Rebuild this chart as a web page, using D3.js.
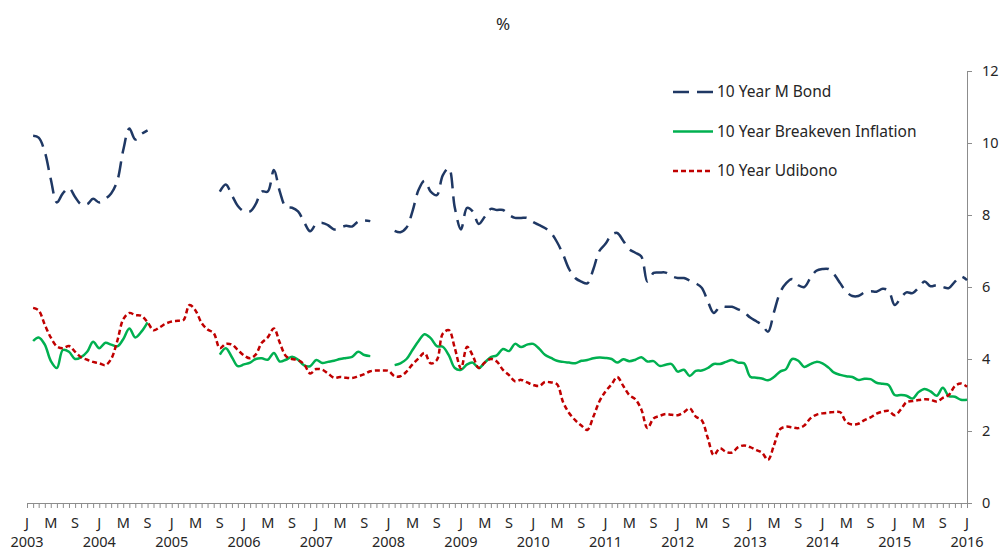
<html>
<head>
<style>
  body { margin: 0; background: #fff; }
  text { font-family: "Noto Sans", sans-serif; fill: #262626; }
</style>
</head>
<body>
<svg id="chart" width="1003" height="552"></svg>
<script src="https://cdn.jsdelivr.net/npm/d3@7"></script>
<script>
// monthly values, Feb 2003 .. Jan 2016 (null = no data)
const firstMonth = new Date(2003, 1, 1)
const mBond = [
  10.2, 10.15, 9.75, 9.0, 8.35, 8.6, 8.75, 8.5, 8.3, 8.3, 8.45, 8.35,
  8.45, 8.6, 8.95, 9.8, 10.4, 10.1, 10.25, 10.35, null, null, null, null,
  null, null, null, null, null, null, null, 8.65, 8.85, 8.55, 8.25, 8.1,
  8.1, 8.3, 8.65, 8.65, 9.25, 8.65, 8.22, 8.2, 8.1, 7.8, 7.55, 7.75,
  7.78, 7.72, 7.6, 7.65, 7.7, 7.68, 7.82, 7.85, 7.83, null, null, null,
  7.56, 7.52, 7.65, 8.1, 8.7, 8.95, 8.65, 8.55, 9.1, 9.3, 8.2, 7.6,
  8.2, 8.1, 7.75, 7.95, 8.17, 8.14, 8.14, 8.0, 7.92, 7.92, 7.92, 7.8,
  7.72, 7.64, 7.5, 7.25, 6.9, 6.5, 6.25, 6.15, 6.1, 6.5, 7.0, 7.2,
  7.45, 7.5, 7.28, 7.05, 6.95, 6.85, 6.15, 6.39, 6.4, 6.4, 6.3, 6.25,
  6.25, 6.18, 6.1, 5.98, 5.6, 5.28, 5.45, 5.45, 5.45, 5.38, 5.3, 5.15,
  5.05, 4.95, 4.76, 5.3, 5.85, 6.1, 6.22, 6.05, 6.0, 6.25, 6.45, 6.5,
  6.5, 6.35, 6.1, 5.87, 5.75, 5.75, 5.85, 5.88, 5.87, 5.95, 5.9, 5.5,
  5.7, 5.85, 5.83, 5.98, 6.15, 6.02, 6.05, 6.0, 5.97, 6.15, 6.29, 6.19
]
const breakeven = [
  4.5, 4.6, 4.4, 3.95, 3.75, 4.25, 4.2, 4.0, 4.05, 4.2, 4.48, 4.3,
  4.45, 4.4, 4.35, 4.55, 4.85, 4.6, 4.76, 5.02, null, null, null, null,
  null, null, null, null, null, null, null, 4.12, 4.3, 4.05, 3.8, 3.85,
  3.9, 4.0, 4.02, 3.98, 4.17, 3.93, 3.98, 4.06, 3.98, 3.82, 3.8, 3.97,
  3.89, 3.92, 3.95, 4.0, 4.03, 4.06, 4.2, 4.11, 4.08, null, null, null,
  3.83, 3.88, 4.0, 4.25, 4.5, 4.69, 4.58, 4.36, 4.34, 4.1, 3.75, 3.7,
  3.85, 3.9, 3.75, 3.9, 4.05, 4.1, 4.28, 4.22, 4.42, 4.33, 4.4, 4.42,
  4.28, 4.12, 4.03, 3.95, 3.92, 3.9, 3.88, 3.95, 3.97, 4.02, 4.04, 4.03,
  4.0, 3.9, 3.99, 3.94, 3.98, 4.05, 3.93, 3.94, 3.81, 3.84, 3.86, 3.65,
  3.7, 3.53, 3.67, 3.68, 3.75, 3.86, 3.86, 3.92, 3.97, 3.9, 3.88, 3.51,
  3.48, 3.46, 3.41, 3.5, 3.65, 3.72, 4.0, 3.95, 3.78, 3.86, 3.92, 3.88,
  3.76, 3.62, 3.56, 3.52, 3.5, 3.42, 3.45, 3.44, 3.34, 3.31, 3.28, 3.0,
  3.0, 2.98, 2.9, 3.08, 3.17, 3.1, 2.98, 3.2, 2.97, 2.95, 2.87, 2.87
]
const udibono = [
  5.42, 5.35, 4.95, 4.6, 4.35, 4.3, 4.36, 4.2, 4.05, 3.98, 3.92, 3.88,
  3.83, 4.0, 4.5, 5.1, 5.28, 5.22, 5.2, 5.02, 4.8, 4.88, 4.98, 5.04,
  5.06, 5.08, 5.5, 5.35, 5.0, 4.82, 4.72, 4.3, 4.42, 4.4, 4.25, 4.1,
  4.02, 4.12, 4.45, 4.6, 4.85, 4.45, 4.08, 4.0, 3.97, 3.85, 3.6, 3.72,
  3.7, 3.6, 3.48, 3.5, 3.48, 3.47, 3.52, 3.58, 3.66, 3.68, 3.68, 3.67,
  3.52, 3.52, 3.65, 3.85, 4.02, 4.17, 3.88, 3.97, 4.7, 4.8, 4.3, 3.74,
  4.34, 4.1, 3.75, 3.9, 4.0, 3.93, 3.7, 3.55, 3.38, 3.42, 3.35, 3.28,
  3.25, 3.36, 3.35, 3.3, 2.8, 2.5, 2.3, 2.15, 2.03, 2.4, 2.82, 3.1,
  3.3, 3.5, 3.25, 3.0, 2.88, 2.6, 2.08, 2.35, 2.42, 2.47, 2.45, 2.44,
  2.52, 2.63, 2.4, 2.3, 1.8, 1.33, 1.52, 1.42, 1.4, 1.55, 1.6, 1.55,
  1.47, 1.4, 1.2, 1.6, 2.05, 2.12, 2.1, 2.08, 2.15, 2.35, 2.45, 2.49,
  2.51, 2.53, 2.52, 2.25, 2.18, 2.2, 2.3, 2.38, 2.48, 2.54, 2.56, 2.44,
  2.6, 2.8, 2.83, 2.86, 2.88, 2.87, 2.82, 2.92, 3.0, 3.25, 3.32, 3.23
]
const seriesNames = ["10 Year M Bond", "10 Year Breakeven Inflation", "10 Year Udibono"]
const monthLetters = ["J", "F", "M", "A", "M", "J", "J", "A", "S", "O", "N", "D"]
const yTicks = [0, 2, 4, 6, 8, 10, 12]

const svg = d3.select("#chart")

let x = d3.scaleTime()
  .domain([new Date(2003, 0, 1), new Date(2016, 0, 1)])
  .range([27, 967])
let y = d3.scaleLinear()
  .domain([0, 12])
  .range([503, 71])

// title
svg.append("text")
  .attr("x", 503).attr("y", 30)
  .attr("text-anchor", "middle")
  .style("font-size", "17px")
  .text("%")

// x axis: monthly minor ticks
let xAxis = d3.axisBottom(x)
  .ticks(d3.timeMonth.every(1))
  .tickSize(5)
  .tickFormat("")
let gx = svg.append("g")
  .attr("transform", "translate(0," + y(0) + ")")
  .call(xAxis)
gx.select(".domain").attr("stroke", "#8c8c8c").attr("d", "M27,0.5H972")
gx.selectAll(".tick line").attr("stroke", "#8c8c8c")

// month letters every 4 months
let labelMonths = d3.timeMonth.every(4).range(new Date(2003, 0, 1), new Date(2016, 0, 2))
svg.append("g").selectAll("text")
  .data(labelMonths)
  .enter().append("text")
  .attr("x", d => x(d))
  .attr("y", 528)
  .attr("text-anchor", "middle")
  .style("font-size", "14.5px")
  .text(d => monthLetters[d.getMonth()])

// years under January
svg.append("g").selectAll("text")
  .data(d3.timeYear.range(new Date(2003, 0, 1), new Date(2016, 0, 2)))
  .enter().append("text")
  .attr("x", d => x(d))
  .attr("y", 547)
  .attr("text-anchor", "middle")
  .style("font-size", "14.5px")
  .text(d => d.getFullYear())

// right y axis
let yAxis = d3.axisRight(y)
  .tickValues(yTicks)
  .tickSize(5)
  .tickPadding(10)
let gy = svg.append("g")
  .attr("transform", "translate(" + x.range()[1] + ",0)")
  .call(yAxis)
gy.select(".domain").attr("stroke", "#8c8c8c")
gy.selectAll(".tick line").attr("stroke", "#8c8c8c")
gy.selectAll(".tick text")
  .style("font-family", "'Noto Sans', sans-serif")
  .style("font-size", "14.5px")
  .attr("fill", "#262626")

// series
let styles = [
  { color: "#1f3864", dash: "16,8" },
  { color: "#00b050", dash: null },
  { color: "#c00000", dash: "5,3" }
]
let allSeries = [mBond, breakeven, udibono]

let line = d3.line()
  .defined(d => d.v != null)
  .x(d => x(d.date))
  .y(d => y(d.v))
  .curve(d3.curveCatmullRom.alpha(0.5))

allSeries.forEach((values, k) => {
  let pts = values.map((v, i) => ({ date: d3.timeMonth.offset(firstMonth, i), v: v }))
  svg.append("path")
    .datum(pts)
    .attr("fill", "none")
    .attr("stroke", styles[k].color)
    .attr("stroke-width", 2.5)
    .attr("stroke-dasharray", styles[k].dash)
    .attr("d", line)
})

// legend
let legend = svg.append("g").selectAll("g")
  .data(seriesNames)
  .enter().append("g")
  .attr("transform", (d, i) => "translate(673," + (92 + i * 39.5) + ")")
legend.append("line")
  .attr("x1", 0).attr("x2", 40)
  .attr("stroke", (d, i) => styles[i].color)
  .attr("stroke-width", 2.5)
  .attr("stroke-dasharray", (d, i) => styles[i].dash)
legend.append("text")
  .attr("x", 44)
  .attr("dy", "0.35em")
  .style("font-size", "15.5px")
  .text(d => d)
</script>
</body>
</html>
